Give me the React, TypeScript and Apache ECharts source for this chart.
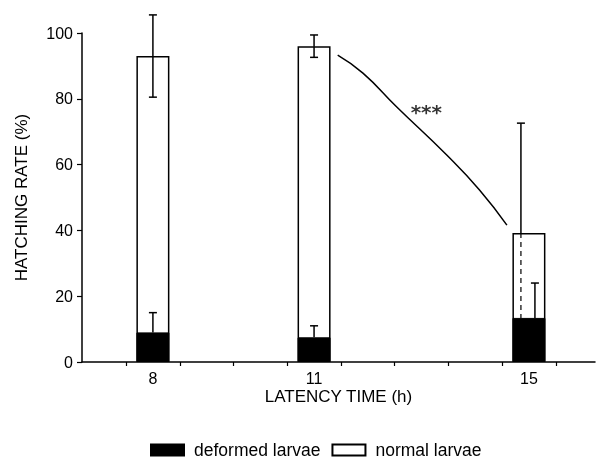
import React, { useEffect, useRef } from "react";
import * as echarts from "echarts";

// ---- data ----
const hours = [8, 11, 15];
const deformed = [9, 7.5, 13.4];
const normal = [84, 88.5, 25.8];
const totalErr = [12.5, 3.4, 33.4];
const deformedErr = [6, 3.5, 10.6];
const tickHours = [7.5, 8.5, 9.5, 10.5, 11.5, 12.5, 13.5, 14.5, 15.5];
const labelHours = [8, 11, 15];
const yTicks = [0, 20, 40, 60, 80, 100];
const curveHours = [11.44, 11.91, 12.54, 13.47, 14.08, 14.59];
const curveRate = [93.3, 87.8, 77.5, 62.9, 52.3, 41.6];
const starPoint = [13.09, 76];
const starText = "***";

// ---- styling (pixel offsets of the error bars from bar centre) ----
const totalErrShift = [0, 0, -8];
const deformedErrShift = [0, 0, 6];

const FONT = "'Liberation Sans', Arial, Helvetica, sans-serif";

export default function App() {
  const ref = useRef<HTMLDivElement>(null);

  useEffect(() => {
    if (!ref.current) return;
    const chart = echarts.init(ref.current, null, { renderer: "svg" });

    const totals = hours.map((_, i) => deformed[i] + normal[i]);

    const errData = hours.map((h, i) => [
      h,
      deformed[i],
      totals[i],
      totalErr[i],
      deformedErr[i],
      i,
    ]);

    const renderErr = (params: any, api: any) => {
      const x = api.value(0);
      const dTop = api.value(1);
      const tTop = api.value(2);
      const tErr = api.value(3);
      const dErr = api.value(4);
      const i = api.value(5);
      const cap = 4;
      const style = { stroke: "#000", lineWidth: 1.5 };
      const children: any[] = [];

      // total (normal larvae) error bar
      const ts = totalErrShift[i];
      const pTop = api.coord([x, tTop + tErr]);
      const pMid = api.coord([x, tTop]);
      let low = tTop - tErr;
      const clamped = low < dTop;
      if (clamped) low = dTop;
      const pLow = api.coord([x, low]);
      const tx = pMid[0] + ts;
      children.push({
        type: "line",
        shape: { x1: tx, y1: pTop[1], x2: tx, y2: pMid[1] },
        style,
      });
      children.push({
        type: "line",
        shape: { x1: tx - cap, y1: pTop[1], x2: tx + cap, y2: pTop[1] },
        style,
      });
      children.push({
        type: "line",
        shape: { x1: tx, y1: pMid[1], x2: tx, y2: pLow[1] },
        style: clamped
          ? { stroke: "#000", lineWidth: 1.2, lineDash: [5, 4] }
          : style,
      });
      if (!clamped) {
        children.push({
          type: "line",
          shape: { x1: tx - cap, y1: pLow[1], x2: tx + cap, y2: pLow[1] },
          style,
        });
      }

      // deformed larvae error bar (upwards)
      const ds = deformedErrShift[i];
      const dA = api.coord([x, dTop]);
      const dB = api.coord([x, dTop + dErr]);
      const dx = dA[0] + ds;
      children.push({
        type: "line",
        shape: { x1: dx, y1: dA[1], x2: dx, y2: dB[1] },
        style,
      });
      children.push({
        type: "line",
        shape: { x1: dx - cap, y1: dB[1], x2: dx + cap, y2: dB[1] },
        style,
      });

      return { type: "group", children };
    };

    chart.setOption({
      animation: false,
      textStyle: { fontFamily: FONT, color: "#000" },
      grid: { left: 82, right: 2, top: 33, bottom: 98 },
      legend: {
        left: 150,
        top: 441,
        padding: 0,
        itemWidth: 33,
        itemHeight: 11,
        itemGap: 11,
        selectedMode: false,
        textStyle: {
          fontFamily: FONT,
          fontSize: 17.5,
          color: "#000",
          padding: [0, 0, 0, 5],
        },
        data: [
          { name: "deformed larvae", icon: "rect" },
          { name: "normal larvae", icon: "rect" },
        ],
      },
      xAxis: {
        type: "value",
        min: 6.68,
        max: 16.23,
        name: "LATENCY TIME (h)",
        nameLocation: "middle",
        nameGap: 26,
        nameMoveOverlap: false,
        nameTextStyle: { fontFamily: FONT, fontSize: 17, color: "#000" },
        axisLine: { show: true, onZero: false, lineStyle: { color: "#000", width: 1.5 } },
        axisTick: {
          show: true,
          customValues: tickHours,
          length: 4,
          lineStyle: { color: "#000", width: 1.2 },
        },
        axisLabel: {
          customValues: labelHours,
          margin: 8,
          fontFamily: FONT,
          fontSize: 16,
          color: "#000",
          formatter: (v: number) => String(v),
        },
        splitLine: { show: false },
      },
      yAxis: {
        type: "value",
        min: 0,
        max: 100,
        interval: 20,
        name: "HATCHING RATE (%)",
        nameLocation: "middle",
        nameRotate: 90,
        nameGap: 52,
        nameMoveOverlap: false,
        nameTextStyle: { fontFamily: FONT, fontSize: 17, color: "#000" },
        axisLine: { show: true, lineStyle: { color: "#000", width: 1.5 } },
        axisTick: {
          show: true,
          customValues: yTicks,
          length: 5,
          lineStyle: { color: "#000", width: 1.2 },
        },
        axisLabel: {
          margin: 9,
          fontFamily: FONT,
          fontSize: 16,
          color: "#000",
        },
        splitLine: { show: false },
      },
      series: [
        {
          name: "normal larvae",
          type: "bar",
          barWidth: 33,
          barGap: "-100%",
          data: hours.map((h, i) => [h, totals[i]]),
          itemStyle: { color: "#fff", borderColor: "#000", borderWidth: 1.5 },
          z: 2,
        },
        {
          name: "deformed larvae",
          type: "bar",
          barWidth: 33,
          barGap: "-100%",
          data: hours.map((h, i) => [h, deformed[i]]),
          itemStyle: { color: "#000", borderColor: "#000", borderWidth: 1 },
          z: 3,
        },
        {
          name: "errors",
          type: "custom",
          renderItem: renderErr,
          data: errData,
          clip: false,
          z: 5,
        },
        {
          name: "trend",
          type: "line",
          smooth: true,
          symbol: "none",
          data: curveHours.map((h, i) => [h, curveRate[i]]),
          lineStyle: { color: "#000", width: 1.5 },
          z: 4,
        },
        {
          name: "significance",
          type: "scatter",
          symbolSize: 0,
          data: [starPoint],
          label: {
            show: true,
            position: "inside",
            formatter: starText,
            fontFamily: "'DejaVu Sans', sans-serif",
            fontSize: 20,
            fontWeight: "bold",
            color: "#000",
            offset: [0, 0],
          },
          z: 6,
        },
      ],
    });

    return () => chart.dispose();
  }, []);

  return (
    <div
      ref={ref}
      style={{ position: "fixed", left: 0, top: 0, width: 597, height: 460 }}
    />
  );
}
